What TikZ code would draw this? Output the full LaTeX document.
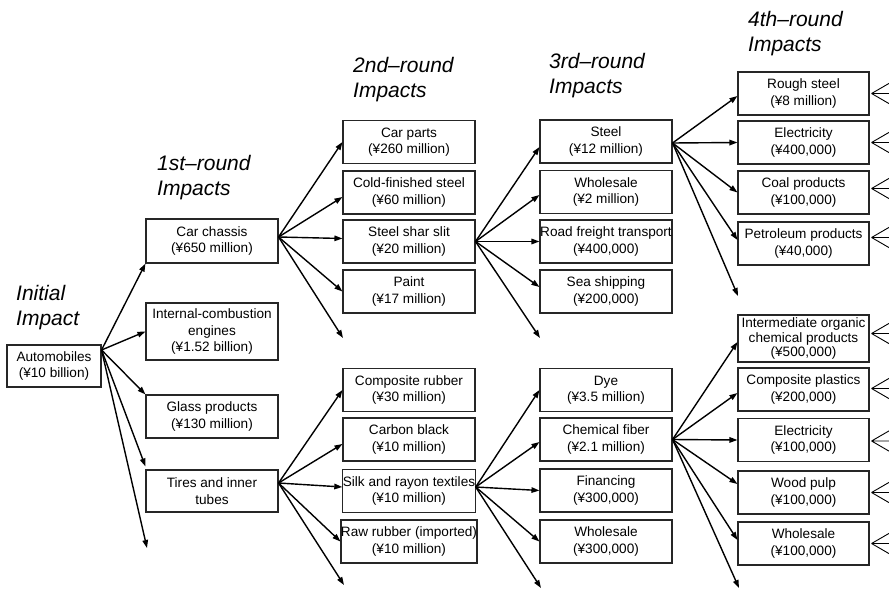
\documentclass[tikz,border=0pt]{standalone}
\usepackage{fontspec}
\setmainfont{Liberation Sans}
\usetikzlibrary{arrows.meta}
\begin{document}
\begin{tikzpicture}[x=1pt,y=-1pt,
  box/.style={draw=black!85, line width=1.1pt, minimum width=132pt, minimum height=43pt, inner sep=0pt, align=center, font=\fontsize{13.6}{16.5}\selectfont},
  head/.style={anchor=north west, inner sep=0pt, align=left, font=\fontsize{21}{25}\selectfont\itshape},
  arr/.style={line width=1.4pt, -{Triangle[length=8pt,width=5.5pt]}},
  fan/.style={line width=0.9pt}
]
\useasboundingbox (0,0) rectangle (889,591);

% headings
\node[head] (h0) at (16,285) {Initial\\Impact};
\node[head] (h1) at (157,155) {1st–round\\Impacts};
\node[head] (h2) at (353,57) {2nd–round\\Impacts};
\node[head] (h3) at (549,53) {3rd–round\\Impacts};
\node[head] (h4) at (748,11) {4th–round\\Impacts};

% initial
\node[box, minimum width=94pt, minimum height=42pt] (auto) at (54,366) {Automobiles\\(¥10 billion)};

% 1st round
\node[box, minimum height=44pt] (c1a) at (212,241) {Car chassis\\(¥650 million)};
\node[box, minimum height=57pt] (c1b) at (212,331.5) {Internal-combustion\\engines\\(¥1.52 billion)};
\node[box] (c1c) at (212,416.5) {Glass products\\(¥130 million)};
\node[box, minimum height=42pt] (c1d) at (212,491) {Tires and inner\\tubes};

% 2nd round
\node[box] (c2a) at (409,142) {Car parts\\(¥260 million)};
\node[box] (c2b) at (409,192.5) {Cold-finished steel\\(¥60 million)};
\node[box] (c2c) at (409,241.5) {Steel shar slit\\(¥20 million)};
\node[box] (c2d) at (409,291.5) {Paint\\(¥17 million)};
\node[box] (c2e) at (409,390) {Composite rubber\\(¥30 million)};
\node[box] (c2f) at (409,439.5) {Carbon black\\(¥10 million)};
\node[box] (c2g) at (409,491) {Silk and rayon textiles\\(¥10 million)};
\node[box] (c2h) at (409,541.5) {Raw rubber (imported)\\(¥10 million)};

% 3rd round
\node[box] (c3a) at (606,141.5) {Steel\\(¥12 million)};
\node[box] (c3b) at (606,192) {Wholesale\\(¥2 million)};
\node[box] (c3c) at (606,241.5) {Road freight transport\\(¥400,000)};
\node[box] (c3d) at (606,291.5) {Sea shipping\\(¥200,000)};
\node[box] (c3e) at (606,390) {Dye\\(¥3.5 million)};
\node[box] (c3f) at (606,439.5) {Chemical fiber\\(¥2.1 million)};
\node[box] (c3g) at (606,490.5) {Financing\\(¥300,000)};
\node[box] (c3h) at (606,541.5) {Wholesale\\(¥300,000)};

% 4th round
\node[box, minimum width=131pt] (c4a) at (803.5,93.5) {Rough steel\\(¥8 million)};
\node[box, minimum width=131pt] (c4b) at (803.5,142.5) {Electricity\\(¥400,000)};
\node[box, minimum width=131pt] (c4c) at (803.5,192.5) {Coal products\\(¥100,000)};
\node[box, minimum width=131pt] (c4d) at (803.5,243.5) {Petroleum products\\(¥40,000)};
\node[box, minimum width=131pt, minimum height=47pt, font=\fontsize{13.6}{14.5}\selectfont] (c4e) at (803.5,338.5) {Intermediate organic\\chemical products\\(¥500,000)};
\node[box, minimum width=131pt] (c4f) at (803.5,389.5) {Composite plastics\\(¥200,000)};
\node[box, minimum width=131pt] (c4g) at (803.5,440) {Electricity\\(¥100,000)};
\node[box, minimum width=131pt] (c4h) at (803.5,492.5) {Wood pulp\\(¥100,000)};
\node[box, minimum width=131pt] (c4i) at (803.5,543.5) {Wholesale\\(¥100,000)};

% arrows from Automobiles
\coordinate (p0) at ([yshift=16pt]auto.east);
\coordinate (e0) at (147,548);
\draw[arr] (p0) -- (c1a.south west);
\draw[arr] (p0) -- (c1b.west);
\draw[arr] (p0) -- (c1c.north west);
\draw[arr] (p0) -- ([yshift=3pt]c1d.north west);
\draw[arr] (p0) -- (e0);

% from Car chassis
\coordinate (p1) at ([yshift=4pt]c1a.east);
\coordinate (e1) at (343,338);
\draw[arr] (p1) -- (c2a.west);
\draw[arr] (p1) -- ([yshift=-4.5pt]c2b.west);
\draw[arr] (p1) -- ([yshift=3pt]c2c.west);
\draw[arr] (p1) -- (c2d.west);
\draw[arr] (p1) -- (e1);

% from Tires
\coordinate (p2) at ([yshift=8pt]c1d.east);
\coordinate (e2) at (344,585);
\draw[arr] (p2) -- (c2e.west);
\draw[arr] (p2) -- ([yshift=-4.5pt]c2f.west);
\draw[arr] (p2) -- ([yshift=4pt]c2g.west);
\draw[arr] (p2) -- (c2h.west);
\draw[arr] (p2) -- (e2);

% from Steel shar slit
\coordinate (p3) at (c2c.east);
\coordinate (e3) at (540,338);
\draw[arr] (p3) -- ([yshift=-5.5pt]c3a.west);
\draw[arr] (p3) -- ([yshift=-3pt]c3b.west);
\draw[arr] (p3) -- (c3c.west);
\draw[arr] (p3) -- ([yshift=4.5pt]c3d.west);
\draw[arr] (p3) -- (e3);

% from Silk and rayon textiles
\coordinate (p4) at ([yshift=4pt]c2g.east);
\coordinate (e4) at (541,588);
\draw[arr] (p4) -- (c3e.west);
\draw[arr] (p4) -- ([yshift=-2.5pt]c3f.west);
\draw[arr] (p4) -- (c3g.west);
\draw[arr] (p4) -- (c3h.west);
\draw[arr] (p4) -- (e4);

% from Steel
\coordinate (p5) at ([yshift=-1.5pt]c3a.east);
\coordinate (e5) at (738,296);
\draw[arr] (p5) -- ([yshift=-2.5pt]c4a.west);
\draw[arr] (p5) -- (c4b.west);
\draw[arr] (p5) -- (c4c.west);
\draw[arr] (p5) -- ([yshift=3.5pt]c4d.west);
\draw[arr] (p5) -- (e5);

% from Chemical fiber
\coordinate (p6) at (c3f.east);
\coordinate (e6) at (739,588);
\draw[arr] (p6) -- ([yshift=-3.5pt]c4e.west);
\draw[arr] (p6) -- ([yshift=-3.5pt]c4f.west);
\draw[arr] (p6) -- (c4g.west);
\draw[arr] (p6) -- ([yshift=8.5pt]c4h.west);
\draw[arr] (p6) -- ([yshift=3.5pt]c4i.west);
\draw[arr] (p6) -- (e6);

% incoming fans on the right
\foreach \n/\s in {c4a/0,c4b/0,c4c/4,c4d/6,c4e/5,c4f/1,c4g/-1,c4h/0,c4i/0} {
  \coordinate (f\n) at ([xshift=2pt,yshift=\s pt]\n.east);
  \draw[fan] (f\n) -- ++(19,-11) (f\n) -- ++(19,0) (f\n) -- ++(19,11);
}
\end{tikzpicture}
\end{document}
